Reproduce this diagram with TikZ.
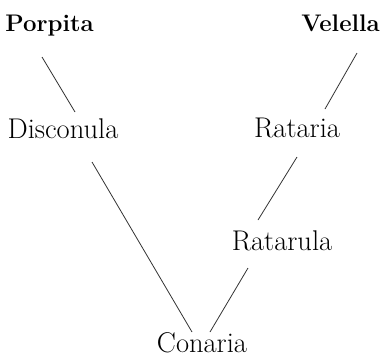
\documentclass[tikz,border=0pt]{standalone}
\usepackage{tikz}
\usetikzlibrary{calc}
\tikzset{
	taxon/.style={inner sep=0pt, anchor=base, font=\fontsize{28.5}{33}\selectfont},
	toptaxon/.style={taxon, font=\fontsize{24}{29}\selectfont\bfseries},
	branch/.style={line width=0.8pt, color=black!80}
}
\begin{document}
\begin{tikzpicture}[x=1pt, y=-1pt]
			%%%%% START %%%%%
			
			\useasboundingbox (0, 0) rectangle (380, 357);
			
			\node[toptaxon] (porpita) at (49.5, 31) {Porpita};
			\node[toptaxon] (velella) at (340.5, 31) {Velella};
			\node[taxon] (disconula) at (63, 138) {Disconula};
			\node[taxon] (rataria) at (297, 137) {Rataria};
			\node[taxon] (ratarula) at (282, 250) {Ratarula};
			\node[taxon] (conaria) at (202, 352) {Conaria};
			
			\draw[branch] ([shift={(-7.5, 26)}]porpita.base) -- ([shift={(12, -26)}]disconula.base);
			\draw[branch] ([shift={(16.5, 22)}]velella.base) -- ([shift={(28, -28)}]rataria.base);
			\draw[branch] ([shift={(0, 20)}]rataria.base) -- ([shift={(-24, -30)}]ratarula.base);
			\draw[branch] ([shift={(29, 24)}]disconula.base) -- ([shift={(-10, -20)}]conaria.base);
			\draw[branch] ([shift={(-34, 18)}]ratarula.base) -- ([shift={(8, -20)}]conaria.base);
			
			%%%%% END %%%%%
		\end{tikzpicture}
\end{document}
